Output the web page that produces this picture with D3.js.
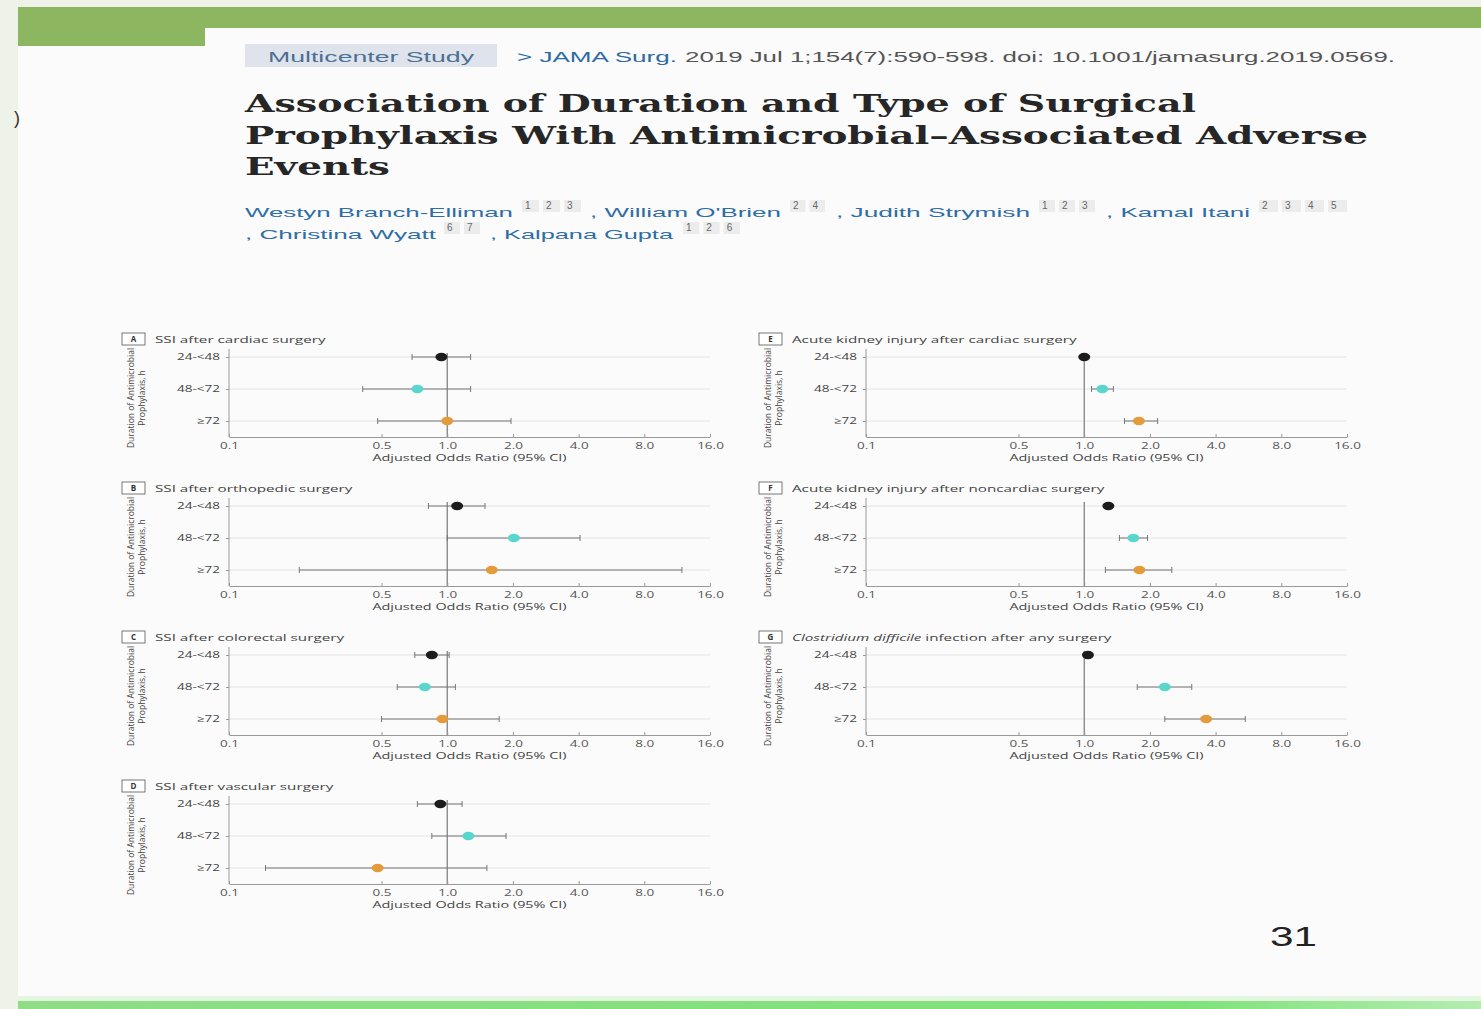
<!DOCTYPE html>
<html>
<head>
<meta charset="utf-8">
<script src="https://cdn.jsdelivr.net/npm/d3@7"></script>
<style>
  html, body { margin: 0; padding: 0; background: #fbfbfb; }
  svg { display: block; }
  .panel text { font-family: "Open Sans", "Liberation Sans", sans-serif; fill: #444; }
</style>
</head>
<body>
<svg id="slide" width="1481" height="1009"></svg>
<script>
// chart data
const panelLetters = ['A', 'B', 'C', 'D', 'E', 'F', 'G'];
const panelTitles = [
    'SSI after cardiac surgery',
    'SSI after orthopedic surgery',
    'SSI after colorectal surgery',
    'SSI after vascular surgery',
    'Acute kidney injury after cardiac surgery',
    'Acute kidney injury after noncardiac surgery',
    'Clostridium difficile infection after any surgery'
];
const durations = ['24-<48', '48-<72', '≥72'];
const oddsRatio = [
    [0.94, 0.73, 1.00],
    [1.11, 2.02, 1.60],
    [0.85, 0.79, 0.95],
    [0.93, 1.25, 0.48],
    [1.00, 1.21, 1.78],
    [1.29, 1.68, 1.79],
    [1.04, 2.34, 3.62]
];
const ciLow = [
    [0.69, 0.41, 0.48],
    [0.82, 1.00, 0.21],
    [0.71, 0.59, 0.50],
    [0.73, 0.85, 0.147],
    [null, 1.08, 1.53],
    [null, 1.45, 1.25],
    [null, 1.75, 2.34]
];
const ciHigh = [
    [1.28, 1.28, 1.96],
    [1.49, 4.06, 11.9],
    [1.02, 1.09, 1.73],
    [1.17, 1.86, 1.52],
    [null, 1.36, 2.17],
    [null, 1.95, 2.52],
    [null, 3.11, 5.47]
];
const tickValues = [0.1, 0.5, 1, 2, 4, 8, 16];
const tickLabels = ['0.1', '0.5', '1.0', '2.0', '4.0', '8.0', '16.0'];
const dotColors = ['#1c1c1c', '#5ad6cd', '#e39b3c'];

const svg = d3.select('#slide');
const sans = '"Liberation Sans", Arial, sans-serif';

// text squeezed/stretched to the width seen on the slide
const addText = (x, y, str, font, color, width) => {
    const t = svg.append('text').attr('x', x).attr('y', y)
        .style('font', font).style('fill', color).text(str);
    if (width) t.attr('textLength', width).attr('lengthAdjust', 'spacingAndGlyphs');
    return t;
};

// the slide screenshot is stretched sideways, so widen small texts too
const widen = (sel, factor) => {
    sel.each((d, i, n) => {
        const len = n[i].getComputedTextLength();
        d3.select(n[i]).attr('textLength', len * factor).attr('lengthAdjust', 'spacingAndGlyphs');
    });
};

// slide frame
svg.append('rect').attr('x', 0).attr('y', 0).attr('width', 18).attr('height', 1009).attr('fill', '#eef2e8');
svg.append('rect').attr('x', 0).attr('y', 0).attr('width', 1481).attr('height', 7).attr('fill', '#eef2e8');
svg.append('rect').attr('x', 18).attr('y', 7).attr('width', 1463).attr('height', 21).attr('fill', '#8cb660');
svg.append('rect').attr('x', 18).attr('y', 28).attr('width', 187).attr('height', 18).attr('fill', '#8cb660');

const grad = svg.append('defs').append('linearGradient').attr('id', 'bottomGreen');
grad.append('stop').attr('offset', '0%').attr('stop-color', '#8fdd86');
grad.append('stop').attr('offset', '80%').attr('stop-color', '#7ee27a');
grad.append('stop').attr('offset', '100%').attr('stop-color', '#b5ecb0');
svg.append('rect').attr('x', 18).attr('y', 996).attr('width', 1463).attr('height', 6).attr('fill', '#e3f6e0');
svg.append('rect').attr('x', 18).attr('y', 1001).attr('width', 1463).attr('height', 8).attr('fill', 'url(#bottomGreen)');
addText(14, 124, ')', `18px ${sans}`, '#333');

// breadcrumb line
svg.append('rect').attr('x', 245).attr('y', 44).attr('width', 252).attr('height', 23).attr('fill', '#dfe4ec');
addText(268, 62, 'Multicenter Study', `15px ${sans}`, '#4d6f93', 206);
addText(517, 62, '> JAMA Surg.', `15px ${sans}`, '#2f6aa3', 160);
addText(685, 62, '2019 Jul 1;154(7):590-598. doi: 10.1001/jamasurg.2019.0569.', `15px ${sans}`, '#555', 710);

// article title
const titleLines = [
    ['Association of Duration and Type of Surgical', 951],
    ['Prophylaxis With Antimicrobial–Associated Adverse', 1123],
    ['Events', 145]
];
titleLines.forEach((l, i) => {
    addText(245, 112 + i * 31.5, l[0], 'bold 24px "DejaVu Serif", serif', '#262626', l[1]);
});

// authors
const authorParts = [
    [245, 217, 'Westyn Branch-Elliman', 268, ['1', '2', '3'], 523, 63],
    [590, 217, ', William O\'Brien', 191, ['2', '4'], 791, 39],
    [836, 217, ', Judith Strymish', 194, ['1', '2', '3'], 1040, 60],
    [1106, 217, ', Kamal Itani', 144, ['2', '3', '4', '5'], 1260, 92],
    [245, 239, ', Christina Wyatt', 191, ['6', '7'], 445, 40],
    [490, 239, ', Kalpana Gupta', 183, ['1', '2', '6'], 684, 61]
];
authorParts.forEach(a => {
    addText(a[0], a[1], a[2], `13px ${sans}`, '#2f6ea5', a[3]);
    const step = a[6] / a[4].length;
    a[4].forEach((s, k) => {
        svg.append('rect').attr('x', a[5] + k * step - 1).attr('y', a[1] - 17)
            .attr('width', step - 4).attr('height', 12).attr('fill', '#ececec');
        addText(a[5] + k * step + 2, a[1] - 8, s, `10px ${sans}`, '#666');
    });
});

// page number
addText(1270, 946, '31', `28px ${sans}`, '#222', 47);

// forest plot panels
const colAxisX = [229, 866];
const rowTopY = [339, 488, 637, 786];
const plotW = 481;

panelLetters.forEach((letter, p) => {
    const col = p < 4 ? 0 : 1;
    const row = p < 4 ? p : p - 4;
    const g = svg.append('g').attr('class', 'panel')
        .attr('transform', `translate(${colAxisX[col]},${rowTopY[row]})`);

    const x = d3.scaleLog().domain([0.1, 16]).range([0, plotW]);
    const y = d3.scalePoint().domain(durations).range([18, 82]);
    const axisY = 98;

    // panel label
    g.append('rect').attr('x', -107).attr('y', -6).attr('width', 23).attr('height', 12)
        .attr('fill', '#fff').attr('stroke', '#555').attr('stroke-width', 0.8);
    g.append('text').attr('x', -95.5).attr('y', 3).attr('text-anchor', 'middle')
        .style('font-size', '8px').style('font-weight', 'bold').style('fill', '#333').text(letter);
    const title = g.append('text').attr('x', -74).attr('y', 3.5).style('font-size', '9.5px');
    if (letter === 'G') {
        title.append('tspan').style('font-style', 'italic').text('Clostridium difficile');
        title.append('tspan').text(' infection after any surgery');
    } else {
        title.text(panelTitles[p]);
    }
    widen(title, 1.6);

    // gridlines
    g.selectAll('.grid').data(durations).join('line').attr('class', 'grid')
        .attr('x1', 0).attr('x2', plotW)
        .attr('y1', d => y(d)).attr('y2', d => y(d))
        .attr('stroke', '#e4e4e4').attr('stroke-width', 1);

    // reference line at OR = 1
    g.append('line').attr('x1', x(1)).attr('x2', x(1)).attr('y1', y(durations[0]) - 4).attr('y2', axisY)
        .attr('stroke', '#777').attr('stroke-width', 1.2);

    // x axis
    const xAxis = g.append('g').attr('transform', `translate(0,${axisY})`)
        .call(d3.axisBottom(x).tickValues(tickValues)
            .tickFormat((d, i) => tickLabels[i]).tickSizeInner(-3).tickSizeOuter(0).tickPadding(6));
    xAxis.select('.domain').attr('stroke', '#999');
    xAxis.selectAll('.tick line').attr('stroke', '#999');
    xAxis.selectAll('.tick text').style('font-size', '9px').style('fill', '#555');
    widen(xAxis.selectAll('.tick text'), 1.5);

    // y axis
    const yAxis = g.append('g')
        .call(d3.axisLeft(y).tickSizeInner(3).tickSizeOuter(0).tickPadding(6));
    yAxis.select('.domain').attr('d', `M0,${y(durations[0]) - 8}V${axisY}`).attr('stroke', '#999');
    yAxis.selectAll('.tick line').attr('stroke', '#999');
    yAxis.selectAll('.tick text').style('font-size', '9px').style('fill', '#444');
    widen(yAxis.selectAll('.tick text'), 1.5);

    const xTitle = g.append('text').attr('x', plotW / 2).attr('y', axisY + 24).attr('text-anchor', 'middle')
        .style('font-size', '9px').text('Adjusted Odds Ratio (95% CI)');
    widen(xTitle, 1.6);

    const yTitle = g.append('text')
        .attr('transform', `translate(-92,${y(durations[1]) + 9}) rotate(-90)`)
        .attr('text-anchor', 'middle').style('font-size', '8.5px');
    yTitle.append('tspan').attr('x', 0).attr('dy', -3).text('Duration of Antimicrobial');
    yTitle.append('tspan').attr('x', 0).attr('dy', 11).text('Prophylaxis, h');

    // confidence intervals
    const rowsData = durations.map((d, i) => ({
        dur: d, or: oddsRatio[p][i], lo: ciLow[p][i], hi: ciHigh[p][i], color: dotColors[i]
    }));
    const ci = rowsData.filter(d => d.lo !== null);
    g.selectAll('.ci').data(ci).join('line').attr('class', 'ci')
        .attr('x1', d => x(d.lo)).attr('x2', d => x(d.hi))
        .attr('y1', d => y(d.dur)).attr('y2', d => y(d.dur))
        .attr('stroke', '#777').attr('stroke-width', 1);
    g.selectAll('.capL').data(ci).join('line').attr('class', 'capL')
        .attr('x1', d => x(d.lo)).attr('x2', d => x(d.lo))
        .attr('y1', d => y(d.dur) - 3).attr('y2', d => y(d.dur) + 3)
        .attr('stroke', '#777');
    g.selectAll('.capR').data(ci).join('line').attr('class', 'capR')
        .attr('x1', d => x(d.hi)).attr('x2', d => x(d.hi))
        .attr('y1', d => y(d.dur) - 3).attr('y2', d => y(d.dur) + 3)
        .attr('stroke', '#777');

    // point estimates
    g.selectAll('.dot').data(rowsData).join('ellipse').attr('class', 'dot')
        .attr('cx', d => x(d.or)).attr('cy', d => y(d.dur))
        .attr('rx', 6).attr('ry', 4.2)
        .attr('fill', d => d.color);
});
</script>
</body>
</html>
